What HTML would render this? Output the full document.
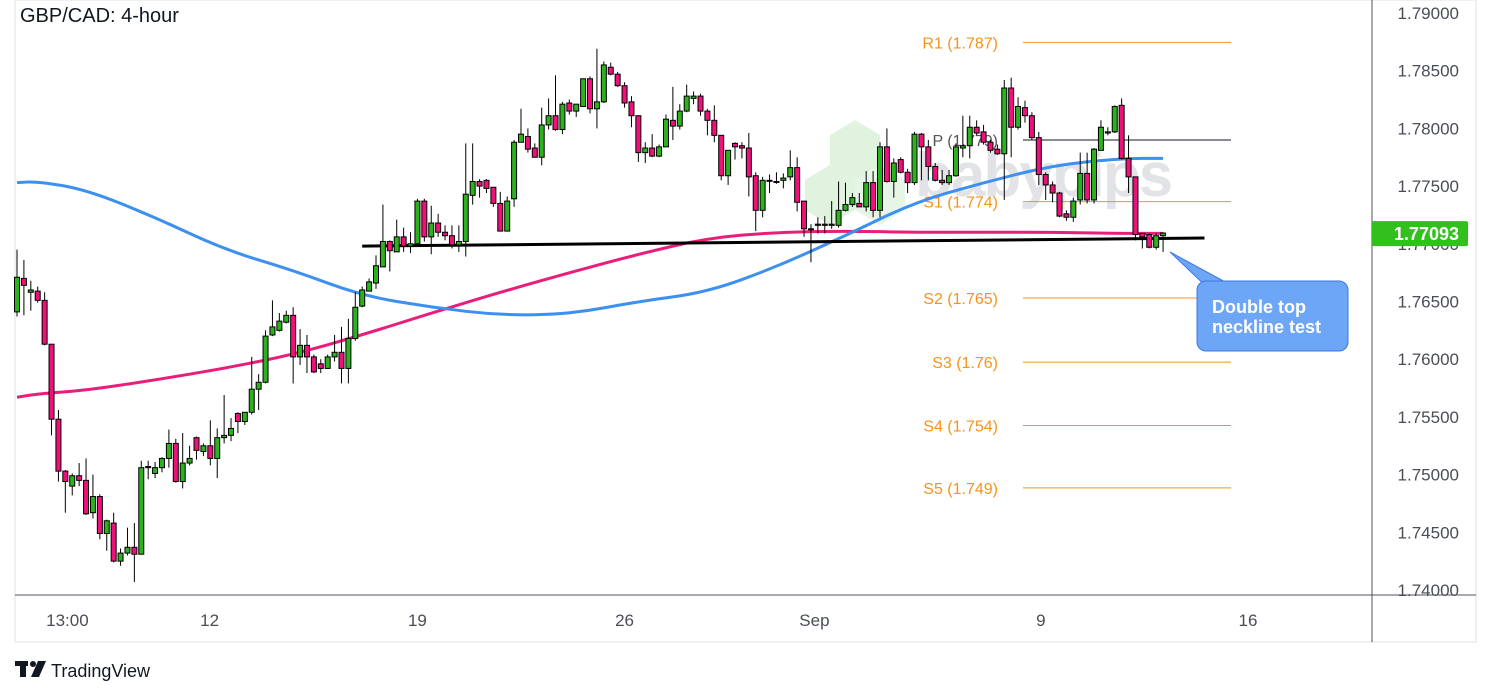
<!DOCTYPE html>
<html><head><meta charset="utf-8"><style>
html,body{margin:0;padding:0;background:#fff;width:1491px;height:696px;overflow:hidden}
svg text{font-family:"Liberation Sans",sans-serif}
</style></head><body>
<svg id="chart" width="1491" height="696" viewBox="0 0 1491 696" xmlns="http://www.w3.org/2000/svg">
<rect x="15" y="0" width="1461" height="642" fill="#fff" stroke="#eef0f4" stroke-width="2"/>
<g id="wm" opacity="0.6">
<polygon points="855,120 880,135 880,165 855,180 830,165 830,135" fill="#cdeccb"/>
<polygon points="830,165 855,180 855,210 830,225 805,210 805,180" fill="#cdeccb"/>
<polygon points="880,165 905,180 905,210 880,225 855,210 855,180" fill="#d8f0d6"/>
<text x="915" y="196" font-size="62" font-weight="bold" fill="#d0d2d6" letter-spacing="-2">babypips</text>
</g>
<g id="grid"></g>
<g id="pivots"></g>
<g id="mas"></g>
<g id="neck"></g>
<g id="candles"></g>
<g id="axes"></g>
<text x="20" y="22" font-size="20" fill="#131722">GBP/CAD: 4-hour</text>
<g>
<polygon points="1170,252 1210,290 1240,290" fill="#6ea6f7" stroke="#3b78e7" stroke-width="1"/>
<rect x="1197" y="281" width="151" height="70" rx="9" fill="#6ea6f7" stroke="#3b78e7" stroke-width="1"/>
<text x="1212" y="313" font-size="18" font-weight="bold" fill="#fff">Double top</text>
<text x="1212" y="333" font-size="18" font-weight="bold" fill="#fff">neckline test</text>
</g>
<g>
<rect x="15" y="661" width="13" height="5" fill="#131722"/><rect x="20" y="661" width="6" height="16" fill="#131722"/>
<circle cx="33" cy="664" r="3" fill="#131722"/><polygon points="38,661 46,661 39,677 31,677" fill="#131722"/>
<text x="51" y="677" font-size="18" fill="#131722">TradingView</text>
</g>
</svg>
<script>
const yTicks=[1.79,1.785,1.78,1.775,1.77,1.765,1.76,1.755,1.75,1.745,1.74];
const xLabels=["13:00","12","19","26","Sep","9","16"];
const xLabelIdx=[7.3,27.9,58,88,115.5,148.3,178.3];
const opens=[1.7641,1.7670,1.7658,1.7659,1.7651,1.7613,1.7548,1.7503,1.7490,1.7499,1.7495,1.7467,1.7481,1.7449,1.7458,1.7425,1.7432,1.7437,1.7431,1.7506,1.7501,1.7506,1.7514,1.7527,1.7494,1.7510,1.7532,1.7520,1.7525,1.7514,1.7532,1.7534,1.7553,1.7546,1.7554,1.7574,1.7580,1.7621,1.7625,1.7632,1.7638,1.7602,1.7612,1.7602,1.7596,1.7592,1.7602,1.7606,1.7592,1.7618,1.7646,1.7659,1.7666,1.7680,1.7702,1.7693,1.7706,1.7698,1.7700,1.7737,1.7706,1.7718,1.7710,1.7707,1.7699,1.7702,1.7742,1.7754,1.7755,1.7749,1.7735,1.7711,1.7739,1.7788,1.7793,1.7783,1.7775,1.7803,1.7811,1.7799,1.7822,1.7815,1.7819,1.7843,1.7817,1.7823,1.7853,1.7847,1.7837,1.7823,1.7811,1.7779,1.7783,1.7776,1.7784,1.7807,1.7802,1.7815,1.7826,1.7828,1.7815,1.7807,1.7794,1.7759,1.7787,1.7785,1.7783,1.7759,1.7729,1.7755,1.7754,1.7755,1.7758,1.7766,1.7737,1.7713,1.7716,1.7716,1.7716,1.7716,1.7729,1.7734,1.7735,1.7732,1.7753,1.7729,1.7784,1.7754,1.7773,1.7762,1.7753,1.7795,1.7784,1.7767,1.7755,1.7753,1.7759,1.7783,1.7785,1.7801,1.7797,1.7788,1.7782,1.7778,1.7835,1.7801,1.7818,1.7811,1.7792,1.7760,1.7751,1.7744,1.7726,1.7723,1.7738,1.7761,1.7738,1.7781,1.7796,1.7797,1.7820,1.7774,1.7758,1.7709,1.7708,1.7697,1.7707];
const closes=[1.7671,1.7664,1.7660,1.7651,1.7613,1.7548,1.7503,1.7494,1.7499,1.7495,1.7466,1.7481,1.7449,1.7460,1.7425,1.7432,1.7437,1.7431,1.7506,1.7507,1.7506,1.7514,1.7527,1.7494,1.7510,1.7514,1.7521,1.7525,1.7514,1.7532,1.7534,1.7540,1.7546,1.7554,1.7574,1.7580,1.7620,1.7628,1.7633,1.7638,1.7602,1.7612,1.7602,1.7589,1.7592,1.7602,1.7606,1.7592,1.7618,1.7645,1.7660,1.7667,1.7681,1.7702,1.7694,1.7706,1.7698,1.7700,1.7737,1.7706,1.7718,1.7710,1.7707,1.7699,1.7702,1.7743,1.7754,1.7750,1.7748,1.7735,1.7711,1.7737,1.7788,1.7795,1.7782,1.7775,1.7803,1.7811,1.7799,1.7821,1.7815,1.7821,1.7843,1.7817,1.7823,1.7855,1.7847,1.7837,1.7822,1.7811,1.7779,1.7783,1.7776,1.7784,1.7808,1.7802,1.7815,1.7828,1.7828,1.7815,1.7807,1.7794,1.7759,1.7781,1.7784,1.7783,1.7758,1.7729,1.7755,1.7755,1.7754,1.7757,1.7766,1.7736,1.7713,1.7713,1.7717,1.7717,1.7717,1.7729,1.7734,1.7740,1.7732,1.7753,1.7729,1.7784,1.7754,1.7770,1.7762,1.7753,1.7795,1.7784,1.7767,1.7755,1.7753,1.7759,1.7784,1.7785,1.7801,1.7796,1.7788,1.7781,1.7778,1.7835,1.7801,1.7819,1.7811,1.7792,1.7760,1.7751,1.7744,1.7724,1.7723,1.7737,1.7761,1.7738,1.7782,1.7801,1.7797,1.7819,1.7774,1.7758,1.7708,1.7706,1.7697,1.7707,1.77093];
const highs=[1.7695,1.7686,1.7668,1.7663,1.7658,1.7613,1.7556,1.7504,1.7501,1.7510,1.7514,1.7500,1.7483,1.7461,1.7467,1.7436,1.7454,1.7458,1.7512,1.7512,1.7511,1.7515,1.7539,1.7531,1.7536,1.7525,1.7533,1.7527,1.7547,1.7540,1.7569,1.7549,1.7554,1.7554,1.7602,1.7587,1.7625,1.7651,1.7640,1.7642,1.7645,1.7626,1.7621,1.7604,1.7600,1.7604,1.7621,1.7628,1.7635,1.7658,1.7663,1.7670,1.7690,1.7734,1.7703,1.7721,1.7714,1.7710,1.7739,1.7739,1.7733,1.7726,1.7716,1.7716,1.7716,1.7787,1.7787,1.7756,1.7756,1.7749,1.7745,1.7741,1.7790,1.7817,1.7800,1.7787,1.7818,1.7826,1.7846,1.7823,1.7825,1.7821,1.7843,1.7845,1.7869,1.7858,1.7857,1.7849,1.7840,1.7828,1.7811,1.7788,1.7795,1.7786,1.7812,1.7836,1.7821,1.7838,1.7832,1.7830,1.7817,1.7820,1.7794,1.7781,1.7788,1.7788,1.7796,1.7762,1.7758,1.7760,1.7762,1.7761,1.7781,1.7775,1.7737,1.7717,1.7723,1.7724,1.7737,1.7754,1.7753,1.7744,1.7744,1.7763,1.7763,1.7788,1.7800,1.7774,1.7775,1.7765,1.7797,1.7796,1.7790,1.7770,1.7764,1.7764,1.7787,1.7811,1.7811,1.7807,1.7803,1.7790,1.7786,1.7842,1.7844,1.7827,1.7824,1.7814,1.7797,1.7762,1.7754,1.7745,1.7729,1.7740,1.7779,1.7779,1.7783,1.7807,1.7801,1.7820,1.7826,1.7794,1.7758,1.7709,1.7709,1.7709,1.7710];
const lows=[1.7637,1.7638,1.7642,1.7649,1.7612,1.7534,1.7494,1.7467,1.7482,1.7490,1.7465,1.7462,1.7444,1.7434,1.7424,1.7421,1.7430,1.7407,1.7431,1.7496,1.7497,1.7502,1.7506,1.7493,1.7488,1.7508,1.7513,1.7516,1.7508,1.7497,1.7527,1.7529,1.7536,1.7543,1.7552,1.7556,1.7579,1.7620,1.7624,1.7631,1.7579,1.7595,1.7588,1.7588,1.7588,1.7592,1.7598,1.7579,1.7579,1.7616,1.7645,1.7661,1.7661,1.7680,1.7676,1.7693,1.7693,1.7692,1.7698,1.7702,1.7691,1.7706,1.7703,1.7696,1.7693,1.7689,1.7734,1.7740,1.7744,1.7732,1.7711,1.7711,1.7732,1.7788,1.7779,1.7775,1.7768,1.7799,1.7798,1.7795,1.7812,1.7810,1.7819,1.7813,1.7800,1.7822,1.7846,1.7836,1.7818,1.7801,1.7771,1.7770,1.7775,1.7775,1.7784,1.7790,1.7799,1.7814,1.7821,1.7811,1.7794,1.7788,1.7755,1.7751,1.7773,1.7774,1.7741,1.7711,1.7723,1.7744,1.7752,1.7748,1.7755,1.7728,1.7706,1.7684,1.7709,1.7709,1.7713,1.7714,1.7728,1.7732,1.7732,1.7728,1.7723,1.7723,1.7753,1.7740,1.7761,1.7744,1.7751,1.7755,1.7755,1.7754,1.7751,1.7751,1.7758,1.7775,1.7774,1.7794,1.7786,1.7779,1.7777,1.7738,1.7775,1.7799,1.7805,1.7790,1.7751,1.7738,1.7736,1.7723,1.7720,1.7719,1.7734,1.7735,1.7735,1.7781,1.7794,1.7796,1.7773,1.7744,1.7703,1.7696,1.7696,1.7695,1.7693];
const maIdx=[0,3,10,20,30,40,50,60,70,80,90,100,110,120,130,140,150,160,166];
const maFast=[1.7753,1.7754,1.7747,1.7723,1.7695,1.7677,1.7655,1.7645,1.7638,1.7639,1.7650,1.7658,1.7680,1.7707,1.7736,1.7753,1.7768,1.7774,1.7774];
const maSlow=[1.7567,1.7570,1.7573,1.7582,1.7592,1.7604,1.7621,1.7640,1.7658,1.7675,1.7691,1.7705,1.7710,1.7711,1.7710,1.7710,1.7710,1.7709,1.7709];
const pivotNames=["R1 (1.787)","P (1.779)","S1 (1.774)","S2 (1.765)","S3 (1.76)","S4 (1.754)","S5 (1.749)"];
const pivotVals=[1.78745,1.7790,1.77365,1.7653,1.75975,1.75425,1.74885];
const necklineIdx=[50,172];
const necklineVals=[1.7698,1.7705];
const lastPrice=1.77093;

const NS="http://www.w3.org/2000/svg";
const yS=p=>13+(1.79-p)*11540;
const xS=i=>17+i*6.904;
function mk(tag,attrs,parent){const e=document.createElementNS(NS,tag);for(const k in attrs)e.setAttribute(k,attrs[k]);parent.appendChild(e);return e;}
const G=id=>document.getElementById(id);

// axes
const ax=G('axes');
let l=mk('line',{x1:1372,y1:0,x2:1372,y2:642,stroke:'#50535e','stroke-width':1},ax);


l=mk('line',{x1:15,y1:595,x2:1476,y2:595,stroke:'#50535e','stroke-width':1},ax);


yTicks.forEach(t=>{const tx=mk('text',{x:1459,y:yS(t)+6,'font-size':17,fill:'#4a4d57','text-anchor':'end'},ax);tx.textContent=t.toFixed(5);

});
xLabels.forEach((s,i)=>{const tx=mk('text',{x:xS(xLabelIdx[i]),y:626,'font-size':17,fill:'#4a4d57','text-anchor':'middle'},ax);tx.textContent=s;

});
const badge=mk('rect',{x:1372,y:yS(lastPrice)-12,width:96,height:25,fill:'#32c11c',rx:2},ax);


const bt=mk('text',{x:1459,y:yS(lastPrice)+7,'font-size':18,'font-weight':'bold',fill:'#fff','text-anchor':'end'},ax);bt.textContent=lastPrice.toFixed(5);



// pivots
const pv=G('pivots');
pivotVals.forEach((v,i)=>{const y=yS(v);const isP=i===1;
const ln=mk('line',{x1:1023,y1:y,x2:1231,y2:y,stroke:isP?'#131722':'#f7931a','stroke-width':1},pv);


const tx=mk('text',{x:998,y:y+6,'font-size':16,fill:isP?'#555':'#f7931a','text-anchor':'end'},pv);tx.textContent=pivotNames[i];

});

// MAs
function maPath(vals,color,name){let d='';const pts=maIdx.map((ix,k)=>[xS(ix),yS(vals[k])]);
d='M'+pts[0][0]+','+pts[0][1];
for(let k=1;k<pts.length;k++){const p0=pts[k-1],p1=pts[k];const cx=(p0[0]+p1[0])/2;d+=' Q'+p0[0]+','+p0[1]+' '+cx+','+(p0[1]+p1[1])/2;}
d+=' L'+pts[pts.length-1][0]+','+pts[pts.length-1][1];
const p=mk('path',{d:d,fill:'none',stroke:color,'stroke-width':3,'stroke-linejoin':'round'},G('mas'));

}
maPath(maSlow,'#e91e7a','moving-average-slow');
maPath(maFast,'#3d8ff0','moving-average-fast');

// neckline
const nk=mk('line',{x1:xS(necklineIdx[0]),y1:yS(necklineVals[0]),x2:xS(necklineIdx[1]),y2:yS(necklineVals[1]),stroke:'#000','stroke-width':3},G('neck'));



// candles
const cg=G('candles');
closes.forEach((c,i)=>{const o=opens[i];const x=xS(i);const up=c>=o;
const w=mk('line',{x1:x,y1:yS(highs[i]),x2:x,y2:yS(lows[i]),stroke:'#000','stroke-width':1},cg);


const top=yS(Math.max(o,c)),bot=yS(Math.min(o,c));
const b=mk('rect',{x:x-2.5,y:top,width:5,height:Math.max(bot-top,1),fill:up?'#2db11c':'#f0107a',stroke:'#000','stroke-width':1},cg);

});
</script>
</body></html>
